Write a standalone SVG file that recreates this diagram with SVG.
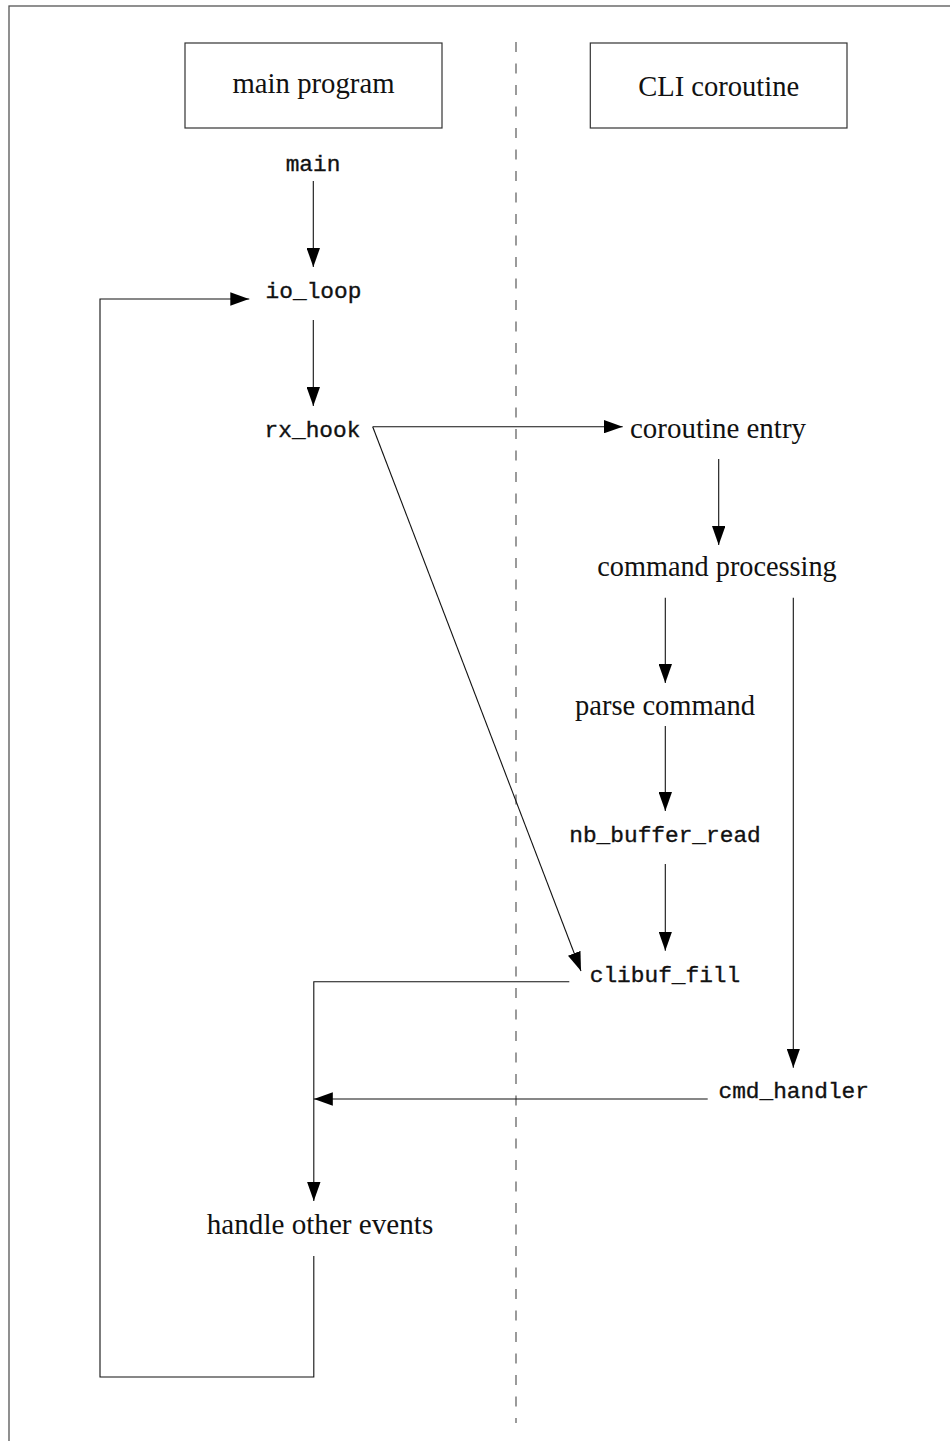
<svg xmlns="http://www.w3.org/2000/svg" width="950" height="1441" viewBox="0 0 950 1441">
<defs>
<marker id="ah" markerUnits="userSpaceOnUse" viewBox="0 0 19 13.4" refX="19" refY="6.7" markerWidth="19" markerHeight="13.4" orient="auto">
<path d="M0,0 L19,6.7 L0,13.4 z" fill="#000"/>
</marker>
<style>
.serif{font-family:"Liberation Serif","Times New Roman",serif;font-size:30px;fill:#111;text-anchor:middle}
.mono{font-family:"Liberation Mono","Courier New",monospace;font-size:22.8px;fill:#111;stroke:#111;stroke-width:0.35;text-anchor:middle}
.box{fill:none;stroke:#333;stroke-width:1.2}
.edge{fill:none;stroke:#111;stroke-width:1.1}
.arr{marker-end:url(#ah)}
</style>
</defs>
<rect x="9" y="6" width="980" height="1480" fill="none" stroke="#555" stroke-width="1.3"/>
<line x1="516" y1="42" x2="516" y2="1423" stroke="#666" stroke-width="1.3" stroke-dasharray="10 11.5"/>
<g id="connectors">
<line class="edge arr" x1="313.3" y1="181" x2="313.3" y2="267"/>
<line class="edge arr" x1="313.3" y1="320" x2="313.3" y2="406"/>
<line class="edge arr" x1="372.7" y1="426.7" x2="622.7" y2="426.7"/>
<line class="edge arr" x1="372.7" y1="426.7" x2="581" y2="971"/>
<line class="edge arr" x1="718.7" y1="459" x2="718.7" y2="545"/>
<line class="edge arr" x1="665.3" y1="597.7" x2="665.3" y2="683"/>
<line class="edge arr" x1="665.3" y1="726" x2="665.3" y2="811"/>
<line class="edge arr" x1="665.3" y1="864" x2="665.3" y2="950.7"/>
<line class="edge arr" x1="793.3" y1="597.7" x2="793.3" y2="1067.7"/>
<path class="edge arr" d="M569.3,981.7 L313.8,981.7 L313.8,1201"/>
<line class="edge arr" x1="707.7" y1="1099" x2="313.8" y2="1099"/>
<path class="edge arr" d="M313.8,1256 L313.8,1377 L100,1377 L100,299 L249.3,299"/>
</g>
<g id="main_program"><rect class="box" x="185" y="43" width="257" height="85"/><text class="serif" x="313.5" y="93" textLength="162" lengthAdjust="spacingAndGlyphs">main program</text></g>
<g id="cli_coroutine"><rect class="box" x="590.3" y="43" width="256.7" height="85"/><text class="serif" x="718.7" y="96" textLength="161" lengthAdjust="spacingAndGlyphs">CLI coroutine</text></g>
<g id="main"><text class="mono" x="313" y="171">main</text></g>
<g id="io_loop"><text class="mono" x="313.5" y="298">io_loop</text></g>
<g id="rx_hook"><text class="mono" x="312.5" y="437">rx_hook</text></g>
<g id="coroutine_entry"><text class="serif" x="718" y="438" textLength="176" lengthAdjust="spacingAndGlyphs">coroutine entry</text></g>
<g id="command_processing"><text class="serif" x="717" y="576" textLength="239.4" lengthAdjust="spacingAndGlyphs">command processing</text></g>
<g id="parse_command"><text class="serif" x="665" y="715" textLength="180" lengthAdjust="spacingAndGlyphs">parse command</text></g>
<g id="nb_buffer_read"><text class="mono" x="665" y="842">nb_buffer_read</text></g>
<g id="clibuf_fill"><text class="mono" x="665" y="982">clibuf_fill</text></g>
<g id="cmd_handler"><text class="mono" x="793.7" y="1098">cmd_handler</text></g>
<g id="handle_other_events"><text class="serif" x="320" y="1234" textLength="226.5" lengthAdjust="spacingAndGlyphs">handle other events</text></g>
</svg>
